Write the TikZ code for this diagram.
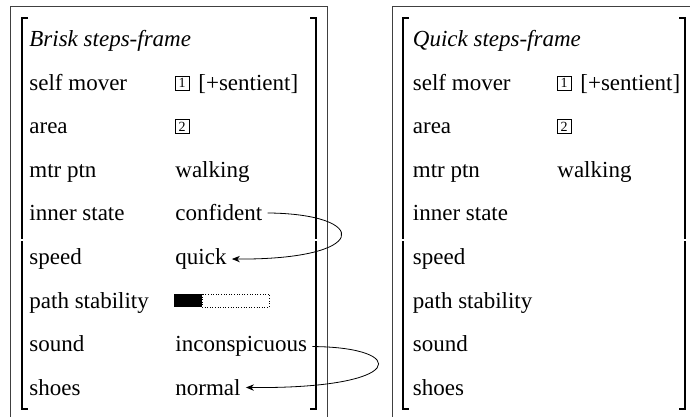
\documentclass[tikz,border=0pt]{standalone}
\usepackage{fontspec}
\setmainfont{Liberation Serif}
\usepackage{tikz}
\usetikzlibrary{arrows.meta,positioning}

\tikzset{
  attr/.style={anchor=base west,inner sep=0pt,font=\fontsize{11.5}{14}\selectfont},
  tagbox/.style={draw,line width=0.4pt,inner sep=0pt,minimum size=7pt,font=\fontsize{7}{8}\selectfont},
  frameline/.style={draw=black!75,line width=0.5pt},
  bracket/.style={line width=0.75pt},
  link/.style={-{Stealth[length=4pt,width=3.2pt]},line width=0.4pt,shorten <=2.5pt,shorten >=2.5pt}
}

\begin{document}
\begin{tikzpicture}[x=0.5pt,y=-0.5pt]
  \clip (0,0) rectangle (690,417);
  % outer frames
  \draw[frameline] (10,430)--(10,7)--(327,7)--(327,430);
  \draw[frameline] (392,430)--(392,7)--(700,7);
  % brackets
  \draw[bracket] (28,18)--(22,18)--(22,239);
  \draw[bracket] (22,241)--(22,409)--(28,409);
  \draw[bracket] (310,18)--(316,18)--(316,239);
  \draw[bracket] (316,241)--(316,409)--(310,409);
  \draw[bracket] (409,18)--(403,18)--(403,239);
  \draw[bracket] (403,241)--(403,409)--(409,409);
  \draw[bracket] (679,18)--(685,18)--(685,239);
  \draw[bracket] (685,241)--(685,409)--(679,409);

  % brisk frame
  \node[attr,font=\fontsize{11.5}{14}\selectfont\itshape] (btitle) at (29,46.5) {Brisk steps-frame};
  \node[attr] (bself) at (29,90.1) {self mover};
  \node[tagbox] (btag1) at (182,83.1) {1};
  \node[attr] (bsent) at (198,90.1) {[+sentient]};
  \node[attr] (barea) at (29,133.7) {area};
  \node[tagbox] (btag2) at (182,126.7) {2};
  \node[attr] (bmtr) at (29,177.3) {mtr ptn};
  \node[attr] (bwalk) at (175,177.3) {walking};
  \node[attr] (binner) at (29,220.9) {inner state};
  \node[attr] (bconf) at (175,220.9) {confident};
  \node[attr] (bspeed) at (29,264.5) {speed};
  \node[attr] (bquick) at (175,264.5) {quick};
  \node[attr] (bpath) at (29,308.1) {path stability};
  \fill (174,294) rectangle (202,307);
  \draw[densely dotted,line width=0.3pt] (202,294) rectangle (269,307);
  \node[attr] (bsound) at (29,351.7) {sound};
  \node[attr] (binco) at (175,351.7) {inconspicuous};
  \node[attr] (bshoes) at (29,395.3) {shoes};
  \node[attr] (bnorm) at (175,395.3) {normal};

  \draw[link] (bconf.east) .. controls (371,214) and (371,260) .. (bquick.east);
  \draw[link] (binco.east) .. controls (409,347) and (409,389) .. (bnorm.east);

  % quick frame
  \node[attr,font=\fontsize{11.5}{14}\selectfont\itshape] (qtitle) at (412.5,46.5) {Quick steps-frame};
  \node[attr] (qself) at (412.5,90.1) {self mover};
  \node[tagbox] (qtag1) at (564,83.1) {1};
  \node[attr] (qsent) at (580,90.1) {[+sentient]};
  \node[attr] (qarea) at (412.5,133.7) {area};
  \node[tagbox] (qtag2) at (564,126.7) {2};
  \node[attr] (qmtr) at (412.5,177.3) {mtr ptn};
  \node[attr] (qwalk) at (557,177.3) {walking};
  \node[attr] (qinner) at (412.5,220.9) {inner state};
  \node[attr] (qspeed) at (412.5,264.5) {speed};
  \node[attr] (qpath) at (412.5,308.1) {path stability};
  \node[attr] (qsound) at (412.5,351.7) {sound};
  \node[attr] (qshoes) at (412.5,395.3) {shoes};
\end{tikzpicture}
\end{document}
